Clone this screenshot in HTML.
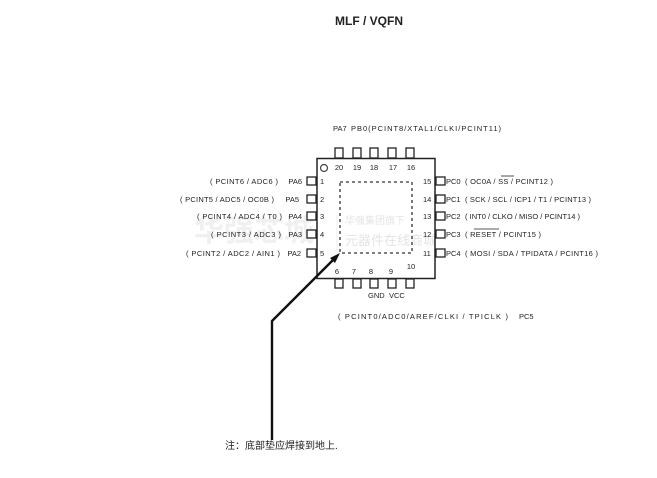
<!DOCTYPE html>
<html><head><meta charset="utf-8"><style>
html,body{margin:0;padding:0;background:#fff;}
svg text{font-family:"Liberation Sans","Noto Sans CJK SC",sans-serif;fill:#222;}
</style></head><body>
<svg width="657" height="473" viewBox="0 0 657 473" xmlns="http://www.w3.org/2000/svg">
<text x="369" y="25" font-size="12" font-weight="bold" text-anchor="middle">MLF / VQFN</text>
<text x="194" y="241" font-size="30" font-weight="bold" style="fill:#f0f0f0">华强芯城</text>
<text x="345" y="224" font-size="10" style="fill:#e4e4e4">华强集团旗下</text>
<text x="345" y="245" font-size="13" style="fill:#e4e4e4">元器件在线商城</text>
<line x1="337" y1="215" x2="337" y2="252" stroke="#eee"/>
<rect x="317" y="158.5" width="118" height="120" fill="none" stroke="#222" stroke-width="1.5"/>
<circle cx="324" cy="168" r="3.5" fill="none" stroke="#444" stroke-width="1.2"/>
<rect x="340" y="182" width="72" height="71" fill="none" stroke="#333" stroke-width="1.3" stroke-dasharray="3,3"/>
<g fill="#fff" stroke="#222" stroke-width="1.3">
<rect x="335" y="148" width="8" height="10"/><rect x="353" y="148" width="8" height="10"/><rect x="370" y="148" width="8" height="10"/><rect x="388" y="148" width="8" height="10"/><rect x="406" y="148" width="8" height="10"/>
<rect x="335" y="279" width="8" height="9"/><rect x="353" y="279" width="8" height="9"/><rect x="370" y="279" width="8" height="9"/><rect x="388" y="279" width="8" height="9"/><rect x="406" y="279" width="8" height="9"/>
<rect x="307" y="177" width="9" height="8"/><rect x="307" y="195" width="9" height="8"/><rect x="307" y="212" width="9" height="8"/><rect x="307" y="230" width="9" height="8"/><rect x="307" y="249" width="9" height="8"/>
<rect x="436" y="177" width="9" height="8"/><rect x="436" y="195" width="9" height="8"/><rect x="436" y="212" width="9" height="8"/><rect x="436" y="230" width="9" height="8"/><rect x="436" y="249" width="9" height="8"/>
</g>
<g font-size="7.5">
<text x="339" y="170" text-anchor="middle">20</text><text x="357" y="170" text-anchor="middle">19</text><text x="374" y="170" text-anchor="middle">18</text><text x="393" y="170" text-anchor="middle">17</text><text x="411" y="170" text-anchor="middle">16</text>
<text x="320" y="184">1</text><text x="320" y="202">2</text><text x="320" y="219">3</text><text x="320" y="237">4</text><text x="320" y="256">5</text>
<text x="423" y="184">15</text><text x="423" y="202">14</text><text x="423" y="219">13</text><text x="423" y="237">12</text><text x="423" y="256">11</text>
<text x="337" y="274" text-anchor="middle">6</text><text x="354" y="274" text-anchor="middle">7</text><text x="371" y="274" text-anchor="middle">8</text><text x="391" y="274" text-anchor="middle">9</text><text x="411" y="269" text-anchor="middle">10</text>
<text x="368" y="298">GND</text><text x="389" y="298">VCC</text>
<text x="333" y="131">PA7</text><text x="351" y="131" textLength="150">PB0(PCINT8/XTAL1/CLKI/PCINT11)</text>
<text x="302" y="184" text-anchor="end">PA6</text><text x="299" y="202" text-anchor="end">PA5</text><text x="302" y="219" text-anchor="end">PA4</text><text x="302" y="237" text-anchor="end">PA3</text><text x="301" y="256" text-anchor="end">PA2</text>
<text x="210" y="184" textLength="68">( PCINT6 / ADC6 )</text>
<text x="180" y="202" textLength="94">( PCINT5 / ADC5 / OC0B )</text>
<text x="197" y="219" textLength="85">( PCINT4 / ADC4 / T0 )</text>
<text x="211" y="237" textLength="70">( PCINT3 / ADC3 )</text>
<text x="186" y="256" textLength="94">( PCINT2 / ADC2 / AIN1 )</text>
<text x="446" y="184">PC0</text><text x="465" y="184" textLength="88">( OC0A / SS / PCINT12 )</text>
<text x="446" y="202">PC1</text><text x="465" y="202" textLength="126">( SCK / SCL / ICP1 / T1 / PCINT13 )</text>
<text x="446" y="219">PC2</text><text x="465" y="219" textLength="115">( INT0 / CLKO / MISO / PCINT14 )</text>
<text x="446" y="237">PC3</text><text x="465" y="237" textLength="76">( RESET / PCINT15 )</text>
<text x="446" y="256">PC4</text><text x="465" y="256" textLength="133">( MOSI / SDA / TPIDATA / PCINT16 )</text>
<text x="338" y="319" textLength="170">( PCINT0/ADC0/AREF/CLKI / TPICLK )</text><text x="519" y="319">PC5</text>
</g>
<line x1="501" y1="176" x2="514" y2="176" stroke="#222" stroke-width="0.8"/>
<line x1="474" y1="229" x2="499" y2="229" stroke="#222" stroke-width="0.8"/>
<polyline points="272,440 272,321 334,259" fill="none" stroke="#111" stroke-width="2.4"/>
<polygon points="340,253 330,258 335,263" fill="#111"/>
<text x="225" y="449" font-size="10">注：底部垫应焊接到地上.</text>
</svg>
</body></html>
